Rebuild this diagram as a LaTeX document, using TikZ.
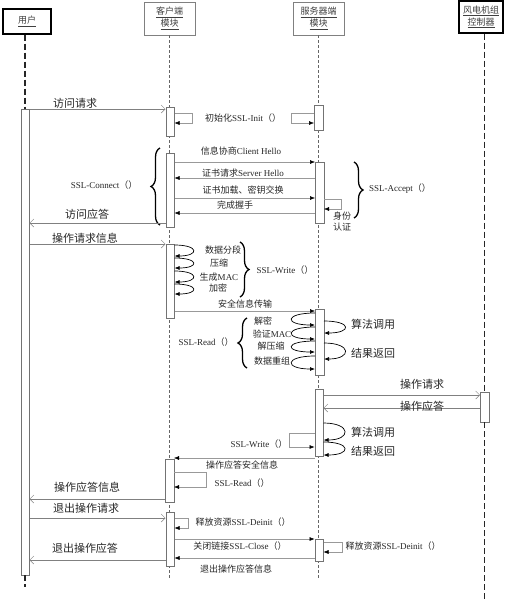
\documentclass[tikz,border=0pt]{standalone}
\usepackage{fontspec}
\setmainfont{Liberation Serif}
\newfontfamily\cjk{Noto Sans CJK SC}
\newcommand\zh[1]{{\cjk #1}}
\usetikzlibrary{arrows.meta,decorations.pathreplacing}
\begin{document}
\begin{tikzpicture}[x=1pt,y=-1pt,
  actor/.style={draw=black!50, line width=0.6pt, fill=white, align=center, inner sep=0pt, font=\fontsize{9}{12}\selectfont\cjk, text=black!75},
  actorB/.style={actor, draw=black, line width=1.4pt},
  bar/.style={draw=black!55, fill=white, line width=0.5pt, minimum width=8.5pt, inner sep=0pt},
  life/.style={draw=black!60, line width=0.5pt, dash pattern=on 3pt off 2pt},
  lifeB/.style={draw=black!85, line width=1.4pt, dash pattern=on 6pt off 3pt},
  msg/.style={draw=black!40, line width=0.5pt, -{Latex[length=5pt,width=4pt,color=black]}},
  ret/.style={draw=black!50, line width=0.5pt, -{Straight Barb[length=4pt,width=8pt]}},
  selfg/.style={draw=black!40, line width=0.5pt, -{Latex[length=5pt,width=4pt,color=black]}},
  curv/.style={draw=black, line width=0.7pt, -{Latex[length=5pt,width=4pt]}},
  brc/.style={draw=black, line width=1.3pt, decorate, decoration={brace, amplitude=9pt}},
  small/.style={font=\fontsize{9}{11}\selectfont, text=black!85, inner sep=0.5pt},
  big/.style={font=\fontsize{11}{13}\selectfont\cjk, text=black!85, inner sep=0.5pt}]
\useasboundingbox (0,0) rectangle (511,600);

% actors
\node[actorB, minimum width=48pt, minimum height=25pt] (user) at (27,21.5) {\underline{用户}};
\node[actor, minimum width=51pt, minimum height=33pt] (client) at (169.5,18.5) {\underline{客户端}\\\underline{模块}};
\node[actor, minimum width=51pt, minimum height=33pt] (server) at (318.5,18.5) {\underline{服务器端}\\\underline{模块}};
\node[actorB, minimum width=44pt, minimum height=32pt] (ctrl) at (481,17) {\underline{风电机组}\\\underline{控制器}};

% client / server lifelines
\coordinate (lifeend) at (0,580);
\draw[life] (client.south) -- (client.south |- lifeend);
\draw[life] (server.south) -- (server.south |- lifeend);

% activation bars
\node[bar, minimum height=466pt] (ub) at (25,342) {};
\node[bar, minimum height=29pt] (cb1) at (170,121.5) {};
\node[bar, minimum height=25pt] (sb1) at (318.5,117.5) {};
\node[bar, minimum height=74pt] (cb2) at (170,190) {};
\node[bar, minimum height=61pt] (sb2) at (319.5,192.5) {};
\node[bar, minimum height=74pt] (cb3) at (170,281) {};
\node[bar, minimum height=66pt] (sb3) at (319.5,342) {};
\node[bar, minimum height=67pt] (sb4) at (319,422.5) {};
\node[bar, minimum height=30pt] (kb) at (484.5,407) {};
\node[bar, minimum height=43pt] (cb4) at (169.5,480.5) {};
\node[bar, minimum height=54pt] (cb5) at (170,539) {};
\node[bar, minimum height=22pt] (sb5) at (319,550) {};

% user / controller lifelines
\coordinate (uend) at (0,587);
\coordinate (kend) at (0,600);
\draw[lifeB] (user.south -| ub.north) -- (ub.north);
\draw[lifeB] (ub.south) -- (ub.south |- uend);
\draw[lifeB] (kb.north |- ctrl.south) -- (kb.north);
\draw[lifeB] (kb.south) -- (kb.south |- kend);

% 访问请求
\draw[ret] (ub.east |- 0,109) -- (cb1.west |- 0,109);
\node[big] (t1) at (75,103) {访问请求};
% init
\draw[selfg] (cb1.east |- 0,113) -- (192,113) -- (192,123) -- (cb1.east |- 0,123);
\draw[selfg] (sb1.west |- 0,113) -- (291,113) -- (291,123) -- (sb1.west |- 0,123);
\node[small] (t2) at (243,118) {\zh{初始化}SSL-Init\zh{（）}};

% handshake
\draw[msg] (cb2.east |- 0,162) -- (sb2.west |- 0,162);
\node[small] (t3) at (241,151) {\zh{信息协商}Client Hello};
\draw[msg] (sb2.west |- 0,178) -- (cb2.east |- 0,178);
\node[small] (t4) at (243,173) {\zh{证书请求}Server Hello};
\draw[msg] (cb2.east |- 0,198) -- (sb2.west |- 0,198);
\node[small] (t5) at (243,190) {\zh{证书加载、密钥交换}};
\draw[msg] (sb2.west |- 0,213) -- (cb2.east |- 0,213);
\node[small] (t6) at (235,205) {\zh{完成握手}};
\draw[selfg] (sb2.east |- 0,199) -- (341,199) -- (341,209) -- (sb2.east |- 0,209);
\node[small, align=center] (t7) at (342,222) {\zh{身份}\\\zh{认证}};
\draw[brc] (160,225) -- (160,148);
\node[small] (t8) at (104,185) {SSL-Connect\zh{（）}};
\draw[brc] (354,162) -- (354,218);
\node[small] (t9) at (400,189) {SSL-Accept\zh{（）}};

% 访问应答
\draw[ret] (cb2.west |- 0,223) -- (ub.east |- 0,223);
\node[big] (t10) at (87,214) {访问应答};

% 操作请求信息
\draw[ret] (ub.east |- 0,244) -- (cb3.west |- 0,244);
\node[big] (t11) at (85,238) {操作请求信息};
\draw[curv] (cb3.east |- 0,245) to[out=0,in=0,distance=25pt] (cb3.east |- 0,256);
\draw[curv] (cb3.east |- 0,258) to[out=0,in=0,distance=25pt] (cb3.east |- 0,268);
\draw[curv] (cb3.east |- 0,271) to[out=0,in=0,distance=25pt] (cb3.east |- 0,282);
\draw[curv] (cb3.east |- 0,284) to[out=0,in=0,distance=25pt] (cb3.east |- 0,294);
\node[small] (t12) at (223,250) {\zh{数据分段}};
\node[small] (t13) at (219,263) {\zh{压缩}};
\node[small] (t14) at (219,277) {\zh{生成}MAC};
\node[small] (t15) at (218,288) {\zh{加密}};
\draw[brc] (240,242) -- (240,297);
\node[small] (t16) at (285,270) {SSL-Write\zh{（）}};

% 安全信息传输
\draw[msg] (cb3.east |- 0,311) -- (sb3.west |- 0,311);
\node[small] (t17) at (245,304) {\zh{安全信息传输}};
\draw[curv] (sb3.west |- 0,313) to[out=180,in=180,distance=31pt] (sb3.west |- 0,325);
\draw[curv] (sb3.west |- 0,327) to[out=180,in=180,distance=31pt] (sb3.west |- 0,339);
\draw[curv] (sb3.west |- 0,341) to[out=180,in=180,distance=31pt] (sb3.west |- 0,352);
\draw[curv] (sb3.west |- 0,356) to[out=180,in=180,distance=31pt] (sb3.west |- 0,369);
\node[small] (t18) at (263,321) {\zh{解密}};
\node[small] (t19) at (272,334) {\zh{验证}MAC};
\node[small] (t20) at (271,346) {\zh{解压缩}};
\node[small] (t21) at (272,361) {\zh{数据重组}};
\draw[brc] (247,368) -- (247,318);
\node[small] (t22) at (206,342) {SSL-Read\zh{（）}};
\draw[curv] (sb3.east |- 0,321) to[out=0,in=0,distance=28pt] (sb3.east |- 0,333);
\draw[curv] (sb3.east |- 0,343) to[out=0,in=0,distance=28pt] (sb3.east |- 0,359);
\node[big] (t23) at (373,324) {算法调用};
\node[big] (t24) at (373,353) {结果返回};

% controller
\draw[ret] (sb4.east |- 0,395) -- (kb.west |- 0,395);
\node[big] (t25) at (422,384) {操作请求};
\draw[ret] (kb.west |- 0,408) -- (sb4.east |- 0,408);
\node[big] (t26) at (422,406) {操作应答};
\draw[curv] (sb4.east |- 0,423) to[out=0,in=0,distance=28pt] (sb4.east |- 0,440);
\draw[curv] (sb4.east |- 0,442) to[out=0,in=0,distance=28pt] (sb4.east |- 0,455);
\node[big] (t27) at (373,432) {算法调用};
\node[big] (t28) at (373,451) {结果返回};
\draw[selfg] (sb4.west |- 0,433) -- (289,433) -- (289,447) -- (sb4.west |- 0,447);
\node[small] (t29) at (259,444) {SSL-Write\zh{（）}};

% 操作应答安全信息
\draw[msg] (sb4.west |- 0,458) -- (cb4.east |- 0,458);
\node[small] (t30) at (242,465) {\zh{操作应答安全信息}};
\draw[selfg] (cb4.east |- 0,472) -- (206,472) -- (206,487) -- (cb4.east |- 0,487);
\node[small] (t31) at (242,483) {SSL-Read\zh{（）}};
\draw[ret] (cb4.west |- 0,499) -- (ub.east |- 0,499);
\node[big] (t32) at (87,487) {操作应答信息};

% exit
\draw[ret] (ub.east |- 0,518) -- (cb5.west |- 0,518);
\node[big] (t33) at (86,508) {退出操作请求};
\draw[selfg] (cb5.east |- 0,518) -- (188,518) -- (188,528) -- (cb5.east |- 0,528);
\node[small] (t34) at (243,522) {\zh{释放资源}SSL-Deinit\zh{（）}};
\draw[msg] (cb5.east |- 0,539) -- (sb5.west |- 0,539);
\node[small] (t35) at (240,546) {\zh{关闭链接}SSL-Close\zh{（）}};
\draw[selfg] (sb5.east |- 0,542) -- (342,542) -- (342,552) -- (sb5.east |- 0,552);
\node[small] (t36) at (393,546) {\zh{释放资源}SSL-Deinit\zh{（）}};
\draw[msg] (sb5.west |- 0,558) -- (cb5.east |- 0,558);
\node[small] (t37) at (236,569) {\zh{退出操作应答信息}};
\draw[ret] (cb5.west |- 0,560) -- (ub.east |- 0,560);
\node[big] (t38) at (85,548) {退出操作应答};
\end{tikzpicture}
\end{document}
